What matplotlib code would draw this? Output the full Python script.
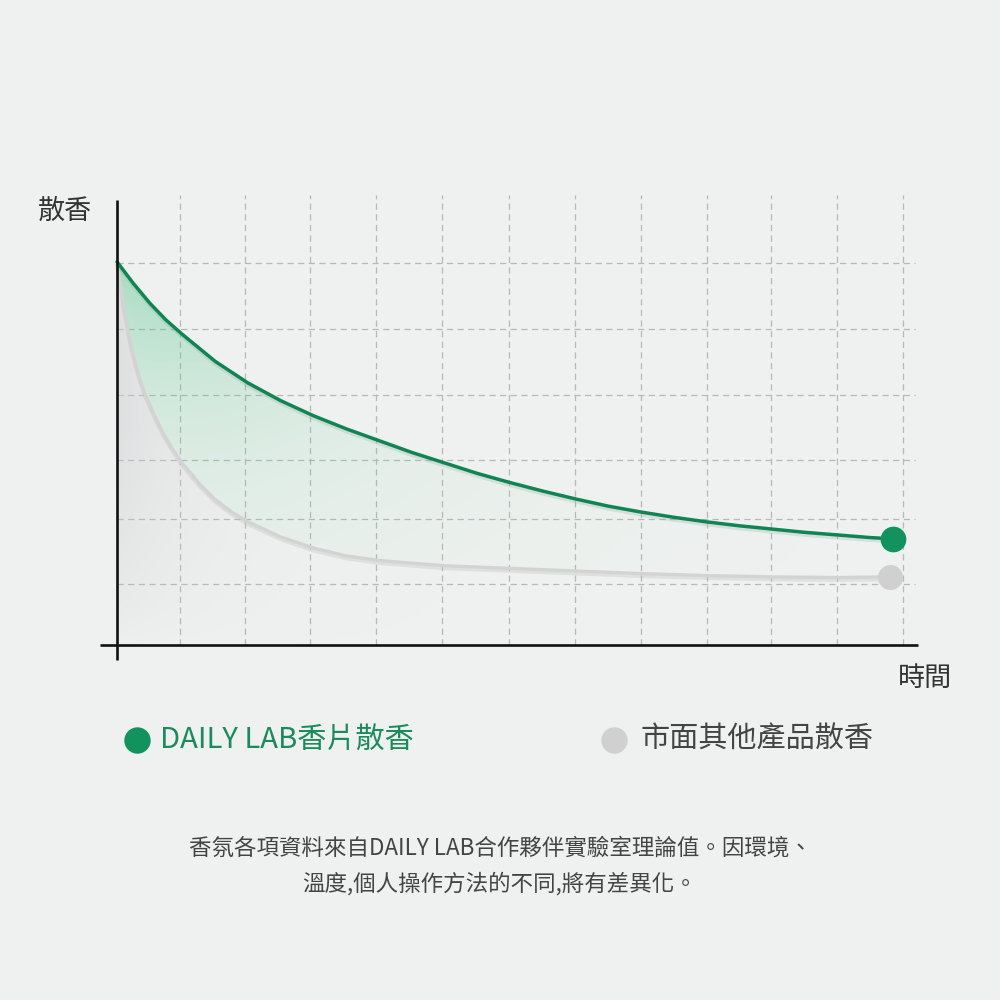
import numpy as np
import matplotlib.pyplot as plt
from matplotlib.patches import Polygon
import matplotlib.patheffects as pe

plt.rcParams['font.family'] = ['Noto Sans CJK TC', 'DejaVu Sans']

# values (x: time in grid units, y: scent level in grid units)
dl_x = [0, 0.25, 0.5, 0.75, 1.0, 1.5, 2.0, 2.5, 3.0, 3.5, 4.0, 4.5, 5.0, 5.5, 6.0, 6.5,
        7.0, 7.5, 8.0, 8.5, 9.0, 9.5, 10.0, 10.5, 11.0, 11.5, 11.85]
dl_y = [5.85, 5.52, 5.22, 4.96, 4.74, 4.33, 4.00, 3.73, 3.50, 3.30, 3.12, 2.94, 2.78, 2.62,
        2.48, 2.35, 2.23, 2.12, 2.03, 1.95, 1.88, 1.82, 1.77, 1.72, 1.68, 1.64, 1.62]

other_x = [0, 0.05, 0.1, 0.2, 0.3, 0.4, 0.55, 0.7, 0.85, 1.0, 1.25, 1.5, 1.75, 2.0, 2.5,
           3.0, 3.5, 4.0, 4.5, 5.0, 6.0, 7.0, 8.0, 9.0, 10.0, 11.0, 11.8]
other_y = [5.80, 5.55, 5.15, 4.62, 4.22, 3.90, 3.55, 3.24, 2.99, 2.77, 2.47, 2.22, 2.03,
           1.88, 1.65, 1.48, 1.36, 1.29, 1.25, 1.21, 1.17, 1.13, 1.09, 1.06, 1.04, 1.03, 1.04]

grid_x = [0.96, 1.95, 2.95, 3.95, 4.96, 5.98, 6.99, 8.0, 9.0, 9.98, 10.99, 12.0]
grid_y = [0.93, 1.92, 2.82, 3.82, 4.82, 5.83]

y_label = '散香'
x_label = '時間'
legend_labels = ['DAILY LAB香片散香', '市面其他產品散香']
note_lines = ['香氛各項資料來自DAILY LAB合作夥伴實驗室理論值。因環境、',
              '溫度,個人操作方法的不同,將有差異化。']

bg = '#eef1ef'
green = '#0f8553'
green_dot = '#12935e'
gray_line = '#d3d3d3'
gray_dot = '#d0d0d0'

fig = plt.figure(figsize=(10, 10), dpi=100, facecolor=bg)
ax = fig.add_axes([0, 0, 1, 1])
ax.set_facecolor(bg)
ax.axis('off')

# 1 grid unit = 65.5 px, origin at pixel (117, 645)
u = 65.5
xlim = (-117 / u, (1000 - 117) / u)
ylim = ((645 - 1000) / u, 645 / u)

# grid
ax.vlines(grid_x, 0, 6.87, colors='#b8b8b8', linestyles=(0, (5, 3.5)), linewidth=0.9, zorder=1)
ax.hlines(grid_y, 0, 12.18, colors='#b8b8b8', linestyles=(0, (5, 3.5)), linewidth=0.9, zorder=1)

# gradient fills
gx = np.linspace(0, 12, 480)
gy = np.linspace(0, 6, 300)
X, Y = np.meshgrid(gx, gy)
top = np.interp(X, dl_x, dl_y)

img_g = np.zeros(X.shape + (4,))
img_g[..., 0], img_g[..., 1], img_g[..., 2] = 0.36, 0.78, 0.56
img_g[..., 3] = 0.50 * np.exp(-X / 2.2) * np.exp(-np.clip(top - Y, 0, None) / 2.0)
green_poly = Polygon(np.column_stack([dl_x + other_x[::-1], dl_y + other_y[::-1]]),
                     closed=True, transform=ax.transData)
im = ax.imshow(img_g, extent=(0, 12, 0, 6), origin='lower', aspect='auto', zorder=2,
               interpolation='bilinear')
im.set_clip_path(green_poly)

img_o = np.zeros(X.shape + (4,))
img_o[..., 0], img_o[..., 1], img_o[..., 2] = 0.80, 0.79, 0.81
img_o[..., 3] = 0.45 * np.exp(-X / 1.3) * np.clip(Y / 3.5, 0, 1) ** 0.6
other_poly = Polygon(np.column_stack([other_x + [other_x[-1], 0], other_y + [0, 0]]),
                     closed=True, transform=ax.transData)
im2 = ax.imshow(img_o, extent=(0, 12, 0, 6), origin='lower', aspect='auto', zorder=2,
                interpolation='bilinear')
im2.set_clip_path(other_poly)

# curves
ax.plot(other_x, other_y, color=gray_line, linewidth=2.4, zorder=3, solid_capstyle='round',
        solid_joinstyle='round',
        path_effects=[pe.SimpleLineShadow(offset=(0, -2), shadow_color='#bbbbbb', alpha=0.3),
                      pe.Normal()])
ax.plot(dl_x, dl_y, color=green, linewidth=2.5, zorder=4, solid_capstyle='round',
        solid_joinstyle='round',
        path_effects=[pe.SimpleLineShadow(offset=(0, -2), shadow_color='#9aa8a0', alpha=0.25),
                      pe.Normal()])
ax.plot(other_x[-1:], other_y[-1:], 'o', markersize=18, color=gray_dot, markeredgewidth=0, zorder=5)
ax.plot(dl_x[-1:], dl_y[-1:], 'o', markersize=18.5, color=green_dot, markeredgewidth=0, zorder=6)

# axes lines
ax.plot([0, 0], [-0.23, 6.79], color='#111111', linewidth=1.9, zorder=7, solid_capstyle='butt')
ax.plot([-0.26, 12.23], [0, 0], color='#111111', linewidth=1.9, zorder=7, solid_capstyle='butt')

ax.set_xlim(xlim)
ax.set_ylim(ylim)

# labels
fig.text(0.065, 1 - 0.211, y_label, fontsize=19.5, color='#333333', ha='center', va='center')
fig.text(0.925, 1 - 0.678, x_label, fontsize=19.5, color='#333333', ha='center', va='center')

# legend
fig.add_artist(plt.Line2D([0.137], [0.26], marker='o', markersize=19, color=green_dot,
                          markeredgewidth=0, transform=fig.transFigure))
fig.text(0.160, 0.26, legend_labels[0], fontsize=21, color='#1b8a5c', ha='left', va='center')
fig.add_artist(plt.Line2D([0.614], [0.26], marker='o', markersize=19, color=gray_dot,
                          markeredgewidth=0, transform=fig.transFigure))
fig.text(0.640, 0.26, legend_labels[1], fontsize=21, color='#444444', ha='left', va='center')

# footnote
fig.text(0.5, 1 - 0.848, note_lines[0], fontsize=16.2, color='#444444', ha='center', va='center')
fig.text(0.5, 1 - 0.884, note_lines[1], fontsize=16.2, color='#444444', ha='center', va='center')

fig.savefig('out.png', dpi=100, facecolor=bg)
